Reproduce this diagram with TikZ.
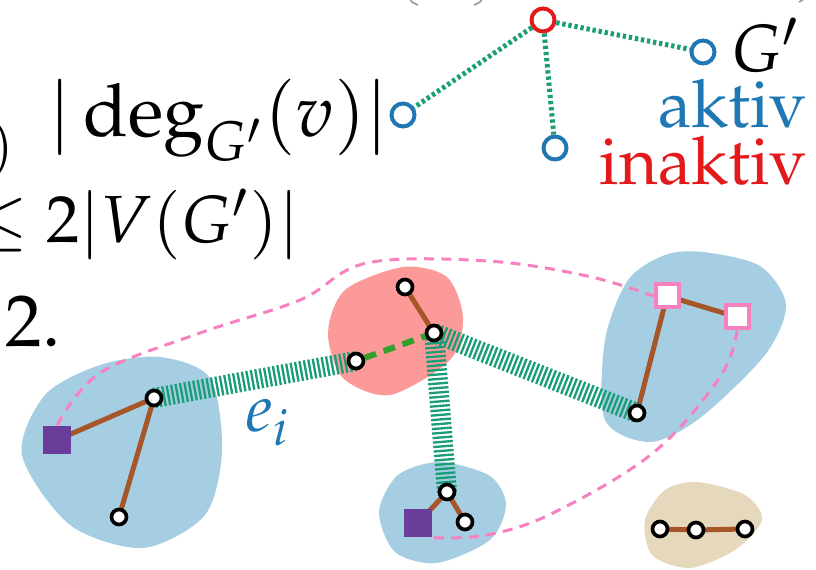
\documentclass[tikz,border=0pt]{standalone}
\usepackage[T1]{fontenc}
\usepackage{amsmath}
\usepackage{mathpazo}
\usetikzlibrary{backgrounds}

\definecolor{lblue}{HTML}{A6CEE3}
\definecolor{lred}{HTML}{FB9A99}
\definecolor{ltan}{HTML}{E6D8BC}
\definecolor{dblue}{HTML}{1F78B4}
\definecolor{dred}{HTML}{E31A1C}
\definecolor{dgreen}{HTML}{1B9E77}
\definecolor{lgreen}{HTML}{33A02C}
\definecolor{brownish}{HTML}{A65628}
\definecolor{purp}{HTML}{6A3D9A}
\definecolor{pinkish}{HTML}{F781BF}

\begin{document}
\begin{tikzpicture}[x=0.3pt,y=-0.3pt,
    big/.style={inner sep=0pt,font=\fontsize{20}{24}\selectfont},
    bigger/.style={inner sep=0pt,font=\fontsize{22}{26}\selectfont},
    vert/.style={circle,draw=black,fill=white,line width=1.1pt,minimum size=4.5pt,inner sep=0pt},
    gnode/.style={circle,fill=white,line width=1.2pt,minimum size=6.9pt,inner sep=0pt},
    term/.style={rectangle,fill=purp,minimum size=8.4pt,inner sep=0pt},
    pinksq/.style={rectangle,draw=pinkish,fill=white,line width=1.2pt,minimum size=6.9pt,inner sep=0pt},
    tree/.style={brownish,line width=1.5pt},
    stripe/.style={dgreen,line width=6pt,dash pattern=on 0.7pt off 0.65pt},
    gdot/.style={dgreen,line width=1.5pt,dash pattern=on 1pt off 0.85pt},
    tether/.style={pinkish,line width=0.9pt,dash pattern=on 3pt off 2.2pt}]
    \useasboundingbox (0,0) rectangle (816,570);
    \clip (0,0) rectangle (816,570);

    % cut-off text at the top edge
    \draw[gray!80,line width=0.5pt] (409,-4) .. controls (411,2) .. (418,5);
    \draw[gray!80,line width=0.5pt] (483,-4) .. controls (481,2) .. (474,5);
    \draw[gray!80,line width=0.5pt] (804,-3) .. controls (803,0) .. (799,2);

    % formula (cut at the left edge)
    \node[big,anchor=south east,font=\fontsize{17}{20}\selectfont] (pr) at (15,180) {$)$};
    \node[bigger,anchor=base west] (deg) at (48,137) {$|\deg_{G'}(v)|$};
    \node[big,anchor=base east] (bound) at (300,243) {$\leq 2|V(G')|$};
    \node[bigger,anchor=base west] (two) at (5,347) {2.};

    % contracted graph G'
    \node[gnode,draw=dred] (r) at (543,20) {};
    \node[gnode,draw=dblue] (a1) at (403,115) {};
    \node[gnode,draw=dblue] (a2) at (555,148) {};
    \node[gnode,draw=dblue] (a3) at (703,52) {};
    \draw[gdot] (r) -- (a1);
    \draw[gdot] (r) -- (a2);
    \draw[gdot] (r) -- (a3);
    \node[big,anchor=base east] (gp) at (800,72) {$G'$};
    \node[big,anchor=base east,text=dblue] (akt) at (808,128) {aktiv};
    \node[big,anchor=base east,text=dred] (inakt) at (808,185) {inaktiv};

    % components with their trees
    \node[term] (sqA) at (57,440) {};
    \node[vert] (u1) at (154,398) {};
    \node[vert] (u2) at (119,517) {};
    \node[vert] (w1) at (405,287) {};
    \node[vert] (w2) at (434,333) {};
    \node[vert] (w3) at (356,361) {};
    \node[pinksq] (psA) at (667,296) {};
    \node[pinksq] (psB) at (737,317) {};
    \node[vert] (x1) at (637,413) {};
    \node[vert] (y1) at (447,492) {};
    \node[vert] (y2) at (465,522) {};
    \node[term] (sqB) at (418,523) {};
    \node[vert] (z1) at (660,529) {};
    \node[vert] (z2) at (696,530) {};
    \node[vert] (z3) at (745,529) {};

    \node[big,anchor=base west,text=dblue] (ei) at (245,432) {$e_i$};

    \begin{scope}[on background layer]
        % blobs
        \fill[lblue] plot[smooth cycle] coordinates {(160,357) (210,378) (222,450) (205,515) (143,548) (70,525) (22,455) (45,395) (100,365)};
        \fill[lred] plot[smooth cycle] coordinates {(403,267) (447,277) (463,318) (450,360) (390,395) (343,378) (328,333) (345,290)};
        \fill[lblue] plot[smooth cycle] coordinates {(703,252) (760,266) (786,305) (765,355) (700,418) (650,442) (605,420) (605,340) (628,280) (665,255)};
        \fill[lblue] plot[smooth cycle] coordinates {(440,462) (490,476) (506,505) (490,540) (437,563) (395,552) (379,512) (398,475)};
        \fill[ltan] plot[smooth cycle] coordinates {(697,482) (745,495) (762,520) (735,550) (690,568) (652,555) (645,520) (665,490)};

        % tree edges
        \draw[tree] (sqA.center) -- (u1.center) -- (u2.center);
        \draw[tree] (w1.center) -- (w2.center);
        \draw[tree] (psB.center) -- (psA.center) -- (x1.center);
        \draw[tree] (sqB.center) -- (y1.center) -- (y2.center);
        \draw[tree] (z1.center) -- (z2.center) -- (z3.center);

        % connecting edges
        \draw[stripe] (u1.center) -- (w3.center);
        \draw[stripe] (w2.center) -- (x1.center);
        \draw[stripe] (w2.center) -- (y1.center);
    \end{scope}

    \draw[lgreen,line width=1.8pt,dash pattern=on 3.6pt off 2.4pt] (w3) -- (w2);

    % terminal paths
    \draw[tether] plot[smooth,tension=0.6] coordinates {(sqA.north) (100,373) (200,333) (300,300) (367,263) (487,261) (587,276) (psA.west)};
    \draw[tether] plot[smooth,tension=0.6] coordinates {(psB.south) (720,377) (653,453) (553,513) (487,535) (sqB.south east)};
\end{tikzpicture}
\end{document}
